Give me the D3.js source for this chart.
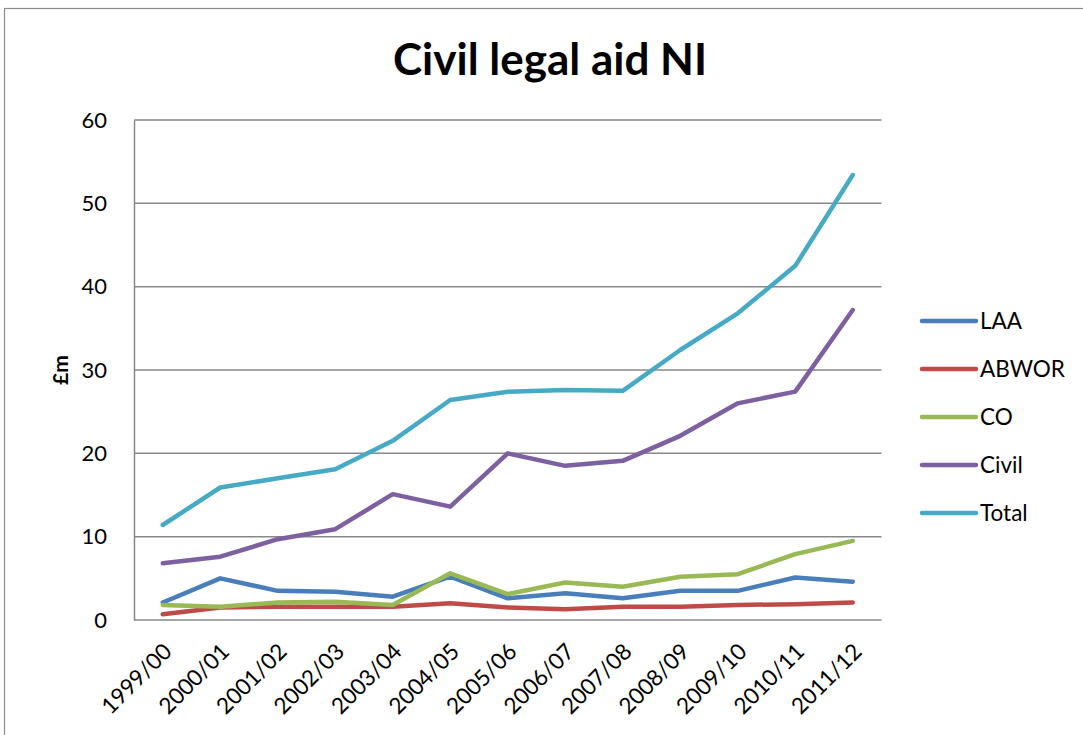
<!DOCTYPE html>
<html><head><meta charset="utf-8">
<script src="https://cdn.jsdelivr.net/npm/d3@7"></script>
<style>body{margin:0;background:#fff}svg{display:block}text{font-family:Lato,"Liberation Sans",sans-serif}</style>
</head><body>
<script>
const categories = ["1999/00","2000/01","2001/02","2002/03","2003/04","2004/05","2005/06","2006/07","2007/08","2008/09","2009/10","2010/11","2011/12"];
const laa   = [2.1, 5.0, 3.5, 3.4, 2.8, 5.2, 2.6, 3.2, 2.6, 3.5, 3.5, 5.1, 4.6];
const abwor = [0.7, 1.5, 1.6, 1.6, 1.6, 2.0, 1.5, 1.3, 1.6, 1.6, 1.8, 1.9, 2.1];
const co    = [1.8, 1.6, 2.1, 2.2, 1.8, 5.6, 3.1, 4.5, 4.0, 5.2, 5.5, 7.9, 9.5];
const civil = [6.8, 7.6, 9.7, 10.9, 15.1, 13.6, 20.0, 18.5, 19.1, 22.1, 26.0, 27.4, 37.2];
const total = [11.4, 15.9, 17.0, 18.1, 21.5, 26.4, 27.4, 27.6, 27.5, 32.4, 36.8, 42.5, 53.4];
const seriesNames = ["LAA","ABWOR","CO","Civil","Total"];
const seriesColors = ["#4a7ebb","#be4b48","#98b954","#7d60a0","#46aac5"];
const yTicks = [0,10,20,30,40,50,60];
const title = "Civil legal aid NI";
const yLabel = "£m";

const series = [laa, abwor, co, civil, total].map((v,i)=>({name:seriesNames[i], color:seriesColors[i], values:v}));

const W=1083,H=735;
const svg=d3.select("body").append("svg").attr("width",W).attr("height",H);
svg.append("rect").attr("x",4.5).attr("y",8.5).attr("width",1200).attr("height",1000)
  .attr("fill","#fff").attr("stroke","#8c8c8c").attr("stroke-width",1.2);

const pL=134,pR=881.5,pT=120,pB=620;
const x=d3.scalePoint().domain(categories).range([pL,pR]).padding(0.5);
const y=d3.scaleLinear().domain([0,60]).range([pB,pT]);

svg.append("text").attr("x",550).attr("y",75).attr("text-anchor","middle")
  .attr("font-size",44).attr("font-weight","bold").attr("fill","#000").text(title);

svg.append("g").selectAll("line").data(yTicks).join("line")
  .attr("x1",pL).attr("x2",pR).attr("y1",d=>y(d)).attr("y2",d=>y(d))
  .attr("stroke","#888").attr("stroke-width",1.5);
const ya=svg.append("g").attr("transform",`translate(${pL},0)`)
  .call(d3.axisLeft(y).tickValues(yTicks).tickSize(0).tickPadding(27));
ya.select(".domain").attr("stroke","#888").attr("stroke-width",1.5);
ya.selectAll("text").attr("font-size",22).attr("fill","#000").attr("font-family","Lato,sans-serif");

const xa=svg.append("g").attr("transform",`translate(0,${pB})`)
  .call(d3.axisBottom(x).tickSize(0).tickFormat(d=>d));
xa.select(".domain").remove();
xa.selectAll("text").attr("font-size",22.5).attr("fill","#000").attr("font-family","Lato,sans-serif")
  .attr("text-anchor","end").attr("dy",null).attr("y",null)
  .attr("transform","translate(10,33) rotate(-45)");

svg.append("text").attr("transform","translate(68,370) rotate(-90)").attr("text-anchor","middle")
  .attr("font-size",21).attr("font-weight","bold").text(yLabel);

const line=d3.line().x((d,i)=>x(categories[i])).y(d=>y(d));
svg.append("g").selectAll("path").data(series).join("path")
  .attr("d",d=>line(d.values)).attr("fill","none").attr("stroke",d=>d.color)
  .attr("stroke-width",4.5).attr("stroke-linejoin","round").attr("stroke-linecap","round");

const lg=svg.append("g").selectAll("g").data(series).join("g")
  .attr("transform",(d,i)=>`translate(922,${321+i*48})`);
lg.append("line").attr("x1",0).attr("x2",54).attr("stroke",d=>d.color).attr("stroke-width",4.5).attr("stroke-linecap","round");
lg.append("text").attr("x",58).attr("dy","0.35em").attr("font-size",22.5).text(d=>d.name);
</script>
</body></html>
